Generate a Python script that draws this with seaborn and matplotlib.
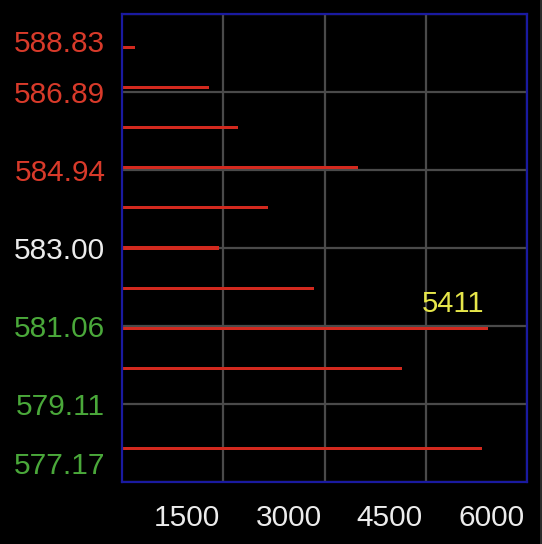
import matplotlib
matplotlib.use("Agg")
import matplotlib.pyplot as plt
import matplotlib.transforms as mtransforms
from matplotlib.patches import Rectangle
import pandas as pd
import seaborn as sns

# traded volume at each price level (no trades at 579)
prices = [588, 587, 586, 585, 584, 583, 582, 581, 580, 578]
volumes = [195, 1293, 1711, 3495, 2155, 1431, 2845, 5411, 4150, 5323]

price_ticks = [588.83, 586.89, 584.94, 583.00, 581.06, 579.11, 577.17]
price_labels = ["588.83", "586.89", "584.94", "583.00", "581.06", "579.11", "577.17"]
volume_ticks = [1500, 3000, 4500, 6000]
volume_labels = ["1500", "3000", "4500", "6000"]
ref_price = 583.00

RED = "#d2291e"
LABEL_RED = "#d83a2a"
GREEN = "#4aa83a"
WHITE = "#ececec"
YELLOW = "#e6e64a"
BLUE = "#1a1aa0"
GRID = "#4a4a4a"

sns.set_style("dark", rc={
    "axes.facecolor": "black",
    "figure.facecolor": "black",
    "axes.edgecolor": BLUE,
    "grid.color": GRID,
    "axes.grid": True,
})
plt.rcParams["font.family"] = ["Liberation Sans", "DejaVu Sans"]

fig = plt.figure(figsize=(5.42, 5.44), dpi=100)
ax = fig.add_axes([0.2251, 0.114, 0.7478, 0.8603])

# thin gray strip on the right edge of the image
fig.patches.append(Rectangle((540 / 542, 0), 2 / 542, 1, transform=fig.transFigure,
                             facecolor="#2b2b2b", edgecolor="none"))

df = pd.DataFrame({"price": prices, "volume": volumes})
sns.barplot(data=df, x="volume", y="price", orient="y", native_scale=True,
            width=0.08, color=RED, saturation=1, linewidth=0, errorbar=None, ax=ax)

ax.set_xlim(0, 6000)
ax.set_ylim(min(price_ticks), max(price_ticks))
ax.set_xlabel("")
ax.set_ylabel("")
ax.set_axisbelow(True)
ax.grid(True, color=GRID, linewidth=1.6)

for s in ax.spines.values():
    s.set_visible(True)
    s.set_color(BLUE)
    s.set_linewidth(1.6)
    s.set_zorder(5)

# y axis: price labels coloured relative to reference price
ax.set_yticks(price_ticks, price_labels)
ax.tick_params(axis="y", length=0, pad=12, labelsize=21.5)
for val, lab in zip(price_ticks, ax.get_yticklabels()):
    if val > ref_price:
        lab.set_color(LABEL_RED)
    elif val < ref_price:
        lab.set_color(GREEN)
    else:
        lab.set_color(WHITE)
    # keep the edge labels inside the plot height
    if val == max(price_ticks):
        lab.set_transform(lab.get_transform() + mtransforms.ScaledTranslation(0, -0.27, fig.dpi_scale_trans))
    elif val == min(price_ticks):
        lab.set_transform(lab.get_transform() + mtransforms.ScaledTranslation(0, 0.19, fig.dpi_scale_trans))

# x axis: volume labels right-aligned to ticks
ax.set_xticks(volume_ticks, volume_labels)
ax.tick_params(axis="x", length=0, pad=16, labelsize=21.5, labelcolor=WHITE)
for lab in ax.get_xticklabels():
    lab.set_horizontalalignment("right")
    lab.set_transform(lab.get_transform() + mtransforms.ScaledTranslation(-0.03, 0, fig.dpi_scale_trans))

# mark the largest volume
i_max = volumes.index(max(volumes))
ax.annotate(str(volumes[i_max]), xy=(volumes[i_max], prices[i_max]),
            xytext=(-3, 16), textcoords="offset pixels",
            ha="right", va="baseline", color=YELLOW, fontsize=21)

fig.savefig("out.png", dpi=100, facecolor="black")
